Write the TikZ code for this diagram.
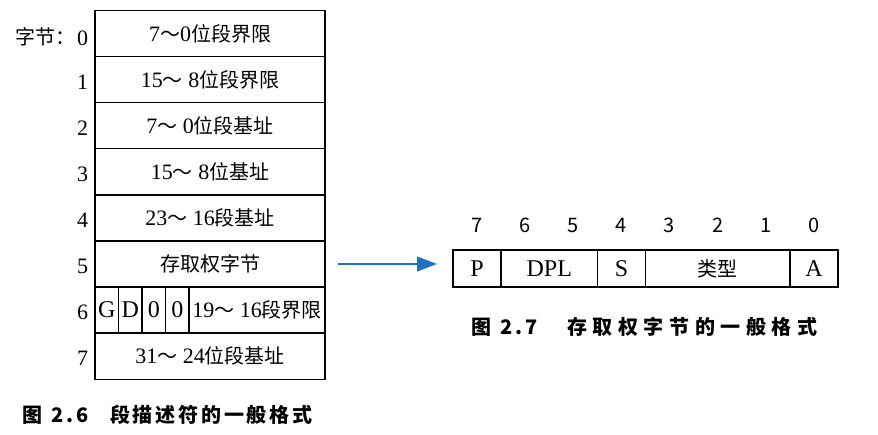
\documentclass[tikz,border=0pt]{standalone}
\usepackage{fontspec}
\setmainfont{Liberation Serif}
\newfontfamily\cjk{Noto Sans CJK SC}
\usetikzlibrary{arrows.meta}
\newcommand\zh[1]{{\cjk\fontsize{15}{18}\selectfont #1}}
\definecolor{arrowblue}{RGB}{31,114,192}
\begin{document}
\begin{tikzpicture}[x=0.75pt,y=-0.75pt,
  every node/.style={inner sep=0pt, outer sep=0pt},
  txt/.style={font=\fontsize{16.5}{18}\selectfont},
  big/.style={font=\fontsize{18}{20}\selectfont},
  rowbox/.style={draw, line width=1pt, txt, minimum width=172.5pt, minimum height=34.6pt},
  smallbox/.style={draw, line width=1pt, big, minimum width=17.625pt, minimum height=34.6pt},
  bitbox/.style={draw, line width=1pt, big, minimum height=27.75pt},
  bitnum/.style={font=\cjk\fontsize{15}{18}\selectfont},
  caption/.style={font=\cjk\bfseries\fontsize{15}{18}\selectfont, anchor=west},
  link/.style={draw=arrowblue, line width=1.6pt, -{Triangle[length=15pt,width=11pt]}}
]
\useasboundingbox (0,0) rectangle (878,435);

% left table
\node[rowbox] (r0) at (210,33.5) {7\zh{～}0\zh{位段界限}};
\node[rowbox] (r1) at (210,79.6) {15\zh{～} 8\zh{位段界限}};
\node[rowbox] (r2) at (210,125.7) {7\zh{～} 0\zh{位段基址}};
\node[rowbox] (r3) at (210,171.8) {15\zh{～} 8\zh{位基址}};
\node[rowbox] (r4) at (210,217.9) {23\zh{～} 16\zh{段基址}};
\node[rowbox] (r5) at (210,264.0) {\zh{存取权字节}};
\node[smallbox] (g) at (106.75,310.1) {G};
\node[smallbox] (d) at (130.25,310.1) {D};
\node[smallbox] (z1) at (153.75,310.1) {0};
\node[smallbox] (z2) at (177.25,310.1) {0};
\node[draw, line width=1pt, txt, minimum width=102pt, minimum height=34.6pt] (lim) at (257,310.1) {19\zh{～} 16\zh{段界限}};
\node[rowbox] (r7) at (210,356.2) {31\zh{～} 24\zh{位段基址}};

% byte labels
\node[txt, anchor=west] (lb) at (15,37) {\zh{字节：}};
\node[txt, anchor=east] (n0) at (88,38) {0};
\node[txt, anchor=east] (n1) at (88,82) {1};
\node[txt, anchor=east] (n2) at (88,128) {2};
\node[txt, anchor=east] (n3) at (88,174) {3};
\node[txt, anchor=east] (n4) at (88,220) {4};
\node[txt, anchor=east] (n5) at (88,266) {5};
\node[txt, anchor=east] (n6) at (88,312) {6};
\node[txt, anchor=east] (n7) at (88,358) {7};

% caption 1
\node[caption] (cap1) at (22,415) {图\hspace{7pt}{\addfontfeature{LetterSpace=15}2.6}\hspace{16pt}{\addfontfeature{LetterSpace=14}段描述符的一般格式}};

% right table
\node[bitbox, minimum width=36.075pt] (p) at (477.05,268.5) {P};
\node[bitbox, minimum width=72.15pt] (dpl) at (549.25,268.5) {DPL};
\node[bitbox, minimum width=36.075pt] (s) at (621.45,268.5) {S};
\node[bitbox, minimum width=108.225pt] (type) at (717.7,268.5) {\zh{类型}};
\node[bitbox, minimum width=36.075pt] (a) at (813.95,268.5) {A};

\node[bitnum] (b7) at (477.05,225) {7};
\node[bitnum] (b6) at (525.15,225) {6};
\node[bitnum] (b5) at (573.25,225) {5};
\node[bitnum] (b4) at (621.35,225) {4};
\node[bitnum] (b3) at (669.45,225) {3};
\node[bitnum] (b2) at (717.55,225) {2};
\node[bitnum] (b1) at (765.65,225) {1};
\node[bitnum] (b0) at (813.75,225) {0};

% caption 2
\node[caption] (cap2) at (471,327) {图\hspace{7pt}{\addfontfeature{LetterSpace=15}2.7}\hspace{22pt}{\addfontfeature{LetterSpace=28}存取权字节的一般格式}};

% arrow
\coordinate (ae) at (r5.east -| p.west);
\draw[link, shorten <=10pt, shorten >=12pt] (r5.east) -- (ae);
\end{tikzpicture}
\end{document}
